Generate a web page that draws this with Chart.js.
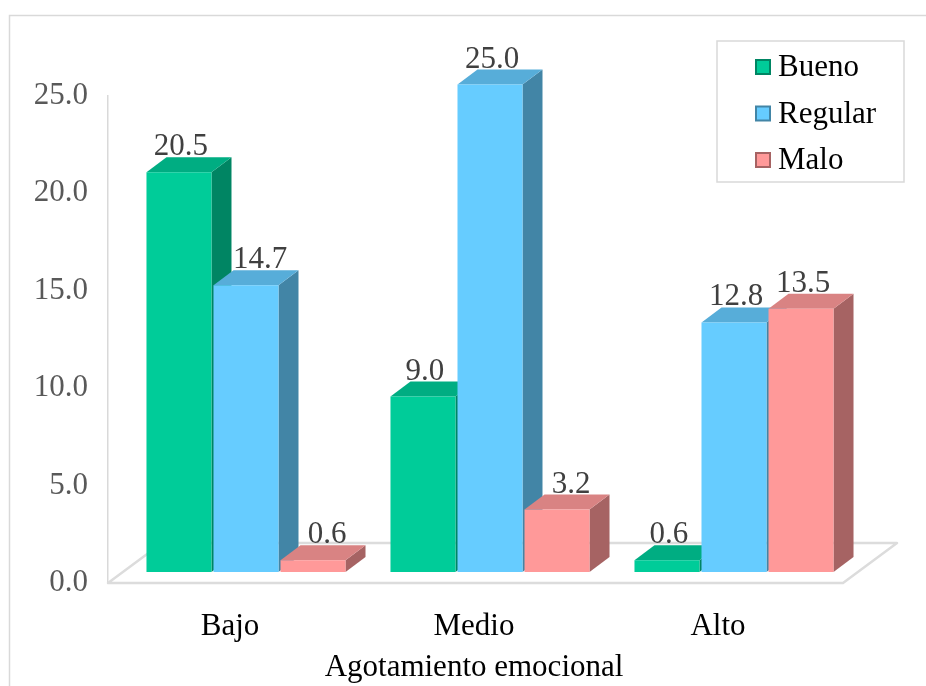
<!DOCTYPE html>
<html>
<head>
<meta charset="utf-8">
<script src="https://cdn.jsdelivr.net/npm/chart.js@4.4.1/dist/chart.umd.min.js"></script>
<style>
  html, body { margin: 0; padding: 0; background: #ffffff; }
  #wrap { width: 926px; height: 686px; position: relative; }
</style>
</head>
<body>
<div id="wrap"><canvas id="c" width="926" height="686"></canvas></div>
<script>
// Categories and series values
const categories = ['Bajo', 'Medio', 'Alto'];
const seriesNames = ['Bueno', 'Regular', 'Malo'];
const bueno = [20.5, 9.0, 0.6];
const regular = [14.7, 25.0, 12.8];
const malo = [0.6, 3.2, 13.5];
const yTickValues = [0, 5, 10, 15, 20, 25];
const axisTitle = 'Agotamiento emocional';

// Face colours: front, top and side of each series
const frontColors = ['#00CC99', '#66CCFF', '#FF9999'];
const topColors = ['#00AD82', '#57ADD9', '#D98383'];
const sideColors = ['#008563', '#4285A6', '#A66363'];

const FONT = "'Liberation Serif', 'Times New Roman', serif";
const FONT_SIZE = 31;

// Projection offsets of the pseudo-3D view
const SHIFT = { x: 16, y: -11 };   // bars sit back from the front edge of the floor
const DEPTH = { x: 20, y: -15 };   // bar depth
const FLOOR = { x: 54, y: -40 };   // floor depth

function poly(ctx, pts, fill) {
  ctx.beginPath();
  ctx.moveTo(pts[0][0], pts[0][1]);
  for (let k = 1; k < pts.length; k++) ctx.lineTo(pts[k][0], pts[k][1]);
  ctx.closePath();
  ctx.fillStyle = fill;
  ctx.fill();
}

function collectBars(chart) {
  const bars = [];
  chart.data.datasets.forEach((ds, i) => {
    const meta = chart.getDatasetMeta(i);
    if (meta.hidden) return;
    meta.data.forEach((el, j) => bars.push({ el, i, j }));
  });
  bars.sort((a, b) => a.el.x - b.el.x);
  return bars;
}

const frame = {
  id: 'frame',
  beforeDraw(chart) {
    const ctx = chart.ctx;
    ctx.save();
    ctx.strokeStyle = '#d9d9d9';
    ctx.lineWidth = 1.5;
    ctx.strokeRect(9.5, 15.5, 940, 700);
    ctx.restore();
  }
};

const bars3d = {
  id: 'bars3d',
  beforeDatasetsDraw(chart) {
    const ctx = chart.ctx;
    const area = chart.chartArea;
    const y0 = chart.scales.y.getPixelForValue(0);
    // floor
    ctx.save();
    ctx.strokeStyle = '#dcdcdc';
    ctx.lineWidth = 2.5;
    ctx.lineJoin = 'round';
    ctx.beginPath();
    ctx.moveTo(area.left, y0);
    ctx.lineTo(area.right + 3, y0);
    ctx.lineTo(area.right + 3 + FLOOR.x, y0 + FLOOR.y);
    ctx.lineTo(area.left + FLOOR.x, y0 + FLOOR.y);
    ctx.closePath();
    ctx.stroke();
    ctx.restore();

    // top and side faces, left to right, before the front faces
    ctx.save();
    ctx.translate(SHIFT.x, SHIFT.y);
    collectBars(chart).forEach(({ el, i }) => {
      const p = el.getProps(['x', 'y', 'base', 'width'], true);
      const l = p.x - p.width / 2, r = p.x + p.width / 2;
      const t = Math.min(p.y, p.base), b = Math.max(p.y, p.base);
      poly(ctx, [[r, t], [r + DEPTH.x, t + DEPTH.y], [r + DEPTH.x, b + DEPTH.y], [r, b]], sideColors[i]);
      poly(ctx, [[l, t], [l + DEPTH.x, t + DEPTH.y], [r + DEPTH.x, t + DEPTH.y], [r, t]], topColors[i]);
    });
  },
  afterDatasetsDraw(chart) {
    const ctx = chart.ctx;
    // value labels above each bar (still in the shifted frame)
    ctx.font = FONT_SIZE + 'px ' + FONT;
    ctx.fillStyle = '#404040';
    ctx.textAlign = 'center';
    ctx.textBaseline = 'alphabetic';
    chart.data.datasets.forEach((ds, i) => {
      const meta = chart.getDatasetMeta(i);
      meta.data.forEach((el, j) => {
        const p = el.getProps(['x', 'y'], true);
        let dx = 2;
        if (i > 0) {
          const prev = chart.getDatasetMeta(i - 1).data[j];
          if (prev && prev.y < p.y - 20) dx = 14;
        }
        ctx.fillText(ds.data[j].toFixed(1), p.x + dx, p.y + DEPTH.y - 2);
      });
    });
    ctx.restore();
  }
};

const legendBox = {
  id: 'legendBox',
  afterDraw(chart) {
    const ctx = chart.ctx;
    ctx.save();
    ctx.strokeStyle = '#d9d9d9';
    ctx.lineWidth = 1.5;
    ctx.strokeRect(717, 41, 187, 141);
    ctx.font = FONT_SIZE + 'px ' + FONT;
    ctx.textAlign = 'left';
    ctx.textBaseline = 'middle';
    chart.data.datasets.forEach((ds, i) => {
      const cy = 67 + i * 46.5;
      ctx.fillStyle = sideColors[i];
      ctx.fillRect(755, cy - 8, 16, 16);
      ctx.fillStyle = frontColors[i];
      ctx.fillRect(757, cy - 6, 12, 12);
      ctx.fillStyle = '#000000';
      ctx.fillText(ds.label, 778, cy + 1);
    });
    ctx.restore();
  }
};

const datasets = [bueno, regular, malo].map((vals, i) => ({
  label: seriesNames[i],
  data: vals,
  backgroundColor: frontColors[i],
  borderWidth: 0,
  clip: false,
  categoryPercentage: 0.824,
  barPercentage: 0.97
}));

new Chart(document.getElementById('c'), {
  type: 'bar',
  data: { labels: categories, datasets },
  plugins: [frame, bars3d, legendBox],
  options: {
    responsive: false,
    animation: false,
    devicePixelRatio: 1,
    layout: { padding: { left: 0, top: 95.5, right: 86, bottom: 0 } },
    plugins: { legend: { display: false }, tooltip: { enabled: false } },
    scales: {
      x: {
        grid: { display: false, drawTicks: false },
        border: { display: false },
        ticks: { color: '#000000', padding: 25, font: { family: FONT, size: FONT_SIZE } },
        title: { display: true, text: axisTitle, color: '#000000', padding: { top: 0, bottom: 0 },
                 font: { family: FONT, size: FONT_SIZE } },
        afterFit(scale) { scale.height = 103; }
      },
      y: {
        min: 0,
        max: 25,
        grid: { display: false, drawTicks: false },
        border: { display: true, color: '#d9d9d9', width: 1.5 },
        ticks: {
          color: '#595959',
          padding: 20,
          font: { family: FONT, size: FONT_SIZE },
          callback: (v) => Number(v).toFixed(1)
        },
        afterBuildTicks(scale) { scale.ticks = yTickValues.map(v => ({ value: v })); },
        afterFit(scale) { scale.width = 108; }
      }
    }
  }
});
</script>
</body>
</html>
